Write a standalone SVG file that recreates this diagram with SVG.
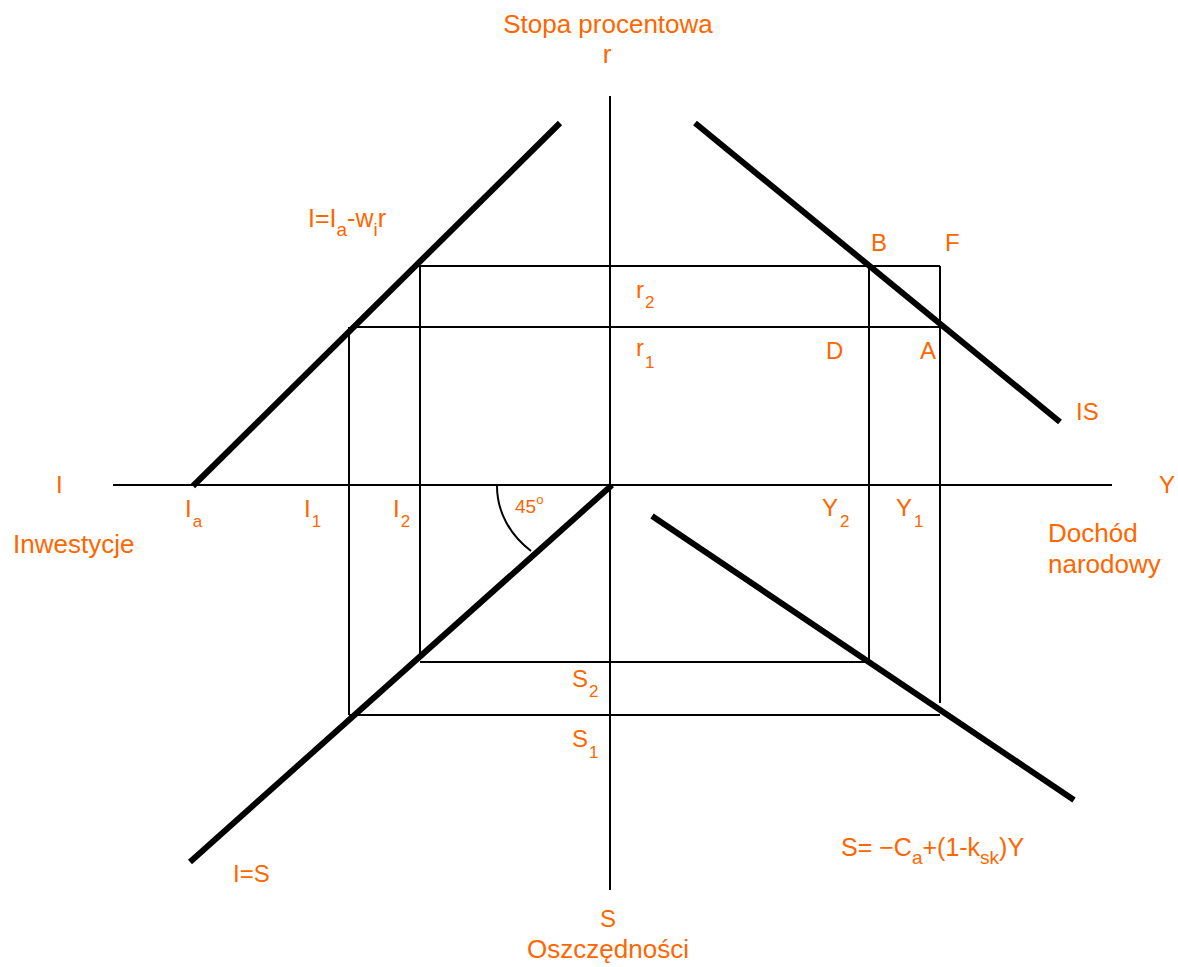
<svg xmlns="http://www.w3.org/2000/svg" width="1178" height="967" viewBox="0 0 1178 967">
<style>
.thin{stroke:#000;stroke-width:2;fill:none}
.thick{stroke:#000;stroke-width:6;fill:none}
text{font-family:"Liberation Sans",Arial,sans-serif;fill:#FF6600}
.lbl{font-size:24px}
.big{font-size:26px}
.sub{font-size:17px}
</style>
<rect width="1178" height="967" fill="#fff"/>
<g id="connectors">
<line class="thin" x1="113" y1="485" x2="1112" y2="485"/>
<line class="thin" x1="610" y1="96" x2="610" y2="890"/>
<line class="thin" x1="418" y1="266" x2="940" y2="266"/>
<line class="thin" x1="352" y1="327" x2="940" y2="327"/>
<line class="thin" x1="349" y1="327" x2="349" y2="715"/>
<line class="thin" x1="420" y1="266" x2="420" y2="660"/>
<line class="thin" x1="869" y1="266" x2="869" y2="662"/>
<line class="thin" x1="940" y1="266" x2="940" y2="703"/>
<line class="thin" x1="420" y1="662" x2="869" y2="662"/>
<line class="thin" x1="349" y1="715" x2="940" y2="715"/>
<path class="thin" d="M497,486 C497,512 510,535 531,551"/>
</g>
<g id="curve-I"><line class="thick" x1="193" y1="486" x2="560" y2="123"/></g>
<g id="curve-IS"><line class="thick" x1="695" y1="123" x2="1060" y2="422"/></g>
<g id="curve-IeqS"><line class="thick" x1="190" y1="862" x2="612" y2="485"/></g>
<g id="curve-S"><line class="thick" x1="652" y1="516" x2="1074" y2="800"/></g>
<g id="labels">
<text class="big" x="608" y="33" text-anchor="middle">Stopa procentowa</text>
<text class="big" x="607" y="63" text-anchor="middle">r</text>
<text x="308" y="227" font-size="25">I=I<tspan font-size="19" dy="9">a</tspan><tspan dy="-9">-w</tspan><tspan font-size="19" dy="9">i</tspan><tspan dy="-9">r</tspan></text>
<text class="lbl" x="871" y="251">B</text>
<text class="lbl" x="945" y="251">F</text>
<text class="lbl" x="636" y="298">r<tspan class="sub" dx="1" dy="10">2</tspan></text>
<text class="lbl" x="636" y="356">r<tspan class="sub" dx="1" dy="12">1</tspan></text>
<text class="lbl" x="826" y="359">D</text>
<text class="lbl" x="920" y="359">A</text>
<text class="lbl" x="1076" y="420">IS</text>
<text class="lbl" x="56" y="493">I</text>
<text class="lbl" x="1159" y="493">Y</text>
<text class="lbl" x="185" y="517">I<tspan class="sub" dx="1" dy="10">a</tspan></text>
<text class="lbl" x="304" y="517">I<tspan class="sub" dx="1" dy="10">1</tspan></text>
<text class="lbl" x="393" y="517">I<tspan class="sub" dx="1" dy="10">2</tspan></text>
<text x="515" y="513" font-size="19">45<tspan font-size="13" dy="-9">o</tspan></text>
<text class="lbl" x="822" y="516">Y<tspan class="sub" dx="2" dy="11">2</tspan></text>
<text class="lbl" x="896" y="516">Y<tspan class="sub" dx="2" dy="11">1</tspan></text>
<text class="big" x="13" y="553">Inwestycje</text>
<text class="big" x="1048" y="542">Dochód</text>
<text class="big" x="1048" y="573">narodowy</text>
<text class="lbl" x="572" y="687">S<tspan class="sub" dx="1" dy="10">2</tspan></text>
<text class="lbl" x="572" y="747">S<tspan class="sub" dx="1" dy="11">1</tspan></text>
<text x="841" y="856" font-size="25">S=  −C<tspan font-size="19" dy="8">a</tspan><tspan dy="-8">+(1-k</tspan><tspan font-size="19" dy="8">sk</tspan><tspan dy="-8">)Y</tspan></text>
<text class="lbl" x="233" y="882">I=S</text>
<text class="lbl" x="608" y="927" text-anchor="middle">S</text>
<text class="big" x="608" y="958" text-anchor="middle">Oszczędności</text>
</g>
</svg>
